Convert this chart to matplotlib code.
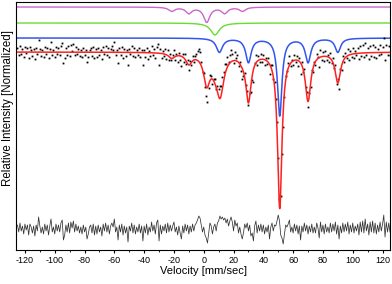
import numpy as np
import matplotlib
matplotlib.use('Agg')
import matplotlib.pyplot as plt
from matplotlib.ticker import MultipleLocator

## chart data

# velocity range of the channels [mm/sec]
v_min, v_max = -125.0, 125.0

# fitted lines: centre [mm/sec], depth, half width
red_pos = [-21.5, -10.0, 2.0, 11.0, 7.5, 25.5, 30.0, 51.0, 70.0, 90.0]
red_depth = [0.010, 0.020, 0.055, 0.075, 0.020, 0.006, 0.095, 0.310, 0.095, 0.060]
red_width = [2.5, 2.5, 2.5, 3.0, 4.0, 2.5, 2.2, 1.8, 2.2, 2.2]

blue_pos = [10.5, 30.0, 51.0, 70.0, 90.0]
blue_depth = [0.028, 0.048, 0.155, 0.048, 0.028]
blue_width = [2.5, 2.2, 1.8, 2.2, 2.2]

green_pos = [7.5]
green_depth = [0.024]
green_width = [3.5]

mag_pos = [-21.5, -10.0, 2.0, 14.0, 26.0]
mag_depth = [0.008, 0.012, 0.030, 0.012, 0.008]
mag_width = [2.5, 2.5, 2.5, 2.5, 2.5]

# baselines of the stacked curves
base_red = 1.0
base_blue = 1.028
base_green = 1.058
base_mag = 1.09
base_resid = 0.646

# residual (data - fit) per channel, in units of 0.002
resid_raw = [4, -3, 6, -2, 3, -5, 5, -1, 4, -6, 5, 2, -4, 3, -7, 4, -2, 12, 3, -4,
             2, -5, 5, -2, 4, -6, 3, 10, -3, 2, -5, 5, -2, 4, -3, 6, 9, -11, -6, 4,
             -3, 6, -4, 7, 1, 8, -3, 5, -2, 3, -4, 2, -5, 4, -3, 2, -10, -5, 2, 4,
             -4, 5, -6, 3, -5, 4, -3, 2, -7, 5, -2, 6, -3, 4, -5, 3, 6, 2, 10, -3,
             2, -11, 4, -3, 5, -6, 3, -4, 2, -13, 3, -2, 6, -4, 4, -5, 2, -3, 5, -4,
             3, -12, 3, -4, 5, -6, 2, -3, 7, -2, 4, -5, 6, 9, -12, 4, -5, 3, -2, 5,
             -4, 6, -3, 4, -2, 3, 7, -3, 2, -6, 3, -4, -10, 3, -4, 5, -2, 4, -5, 3,
             -3, 5, -2, 4, 6, 9, 13, 11, 4, -3, 2, -6, -9, -14, -4, 6, 3, -5, 2, 5,
             -2, 6, 8, 13, 10, 12, 9, 11, 6, 10, 3, 8, 12, 7, -2, 9, 3, 6, -4, 2,
             -5, -10, -4, 5, 1, 6, -2, 4, -7, -4, -12, 3, 8, -4, 4, -2, 5, -3, 4, -5,
             2, -3, 4, -10, 2, 6, -2, 4, 3, 8, 14, 8, -6, -9, -15, -5, 4, 2, 5, 9,
             -3, 2, -4, 5, -2, 4, -5, 3, -11, 3, -3, 6, -2, 4, -5, 3, -3, 5, -4, 2,
             -4, 6, 1, -9, 7, -3, 4, -5, 5, -3, 2, -4, 6, -3, 5, -2, 7, -5, 4, -10,
             3, -4, 6, -3, 5, -2, 7, -5, 4, -3, 6, -4, 3, -2, 5, -6, 7, -3, 8, -4,
             10, -2, 5, -6, 7, -3, 8, -4, 6, -5, 4, -3, 7, -2, 5, 14, -8, 7, -3, 6,
             -3]


def lorentz_sum(v, pos, depth, width):
    total = np.zeros_like(v)
    for c, d, w in zip(pos, depth, width):
        total += d / (1.0 + ((v - c) / w) ** 2)
    return total


v_fine = np.linspace(v_min, v_max, 2001)
v_chan = np.linspace(v_min, v_max, len(resid_raw))
resid = np.array(resid_raw) * 0.002

fit_red = base_red - lorentz_sum(v_fine, red_pos, red_depth, red_width)
fit_blue = base_blue - lorentz_sum(v_fine, blue_pos, blue_depth, blue_width)
fit_green = base_green - lorentz_sum(v_fine, green_pos, green_depth, green_width)
fit_mag = base_mag - lorentz_sum(v_fine, mag_pos, mag_depth, mag_width)
data = base_red - lorentz_sum(v_chan, red_pos, red_depth, red_width) + resid

## plot

plt.rcParams['font.family'] = ['Liberation Sans', 'DejaVu Sans']
plt.rcParams['axes.unicode_minus'] = False

fig = plt.figure(figsize=(3.92, 2.84), dpi=100)
ax = fig.add_axes([16 / 392, 34 / 284, 374 / 392, 248 / 284])

ax.plot(v_fine, fit_mag, color='#cc66cc', lw=1.0)
ax.plot(v_fine, fit_green, color='#66dd33', lw=1.0)
ax.plot(v_fine, fit_blue, color='#3355ee', lw=1.1)
ax.plot(v_chan, data, 's', color='k', ms=1.3, mew=0)
ax.plot(v_fine, fit_red, color='#ff2020', lw=1.1)
ax.plot(v_chan, base_resid + resid, color='#333333', lw=0.55)

ax.set_xlim(-126, 125)
ax.set_ylim(0.604, 1.10)
ax.xaxis.set_major_locator(MultipleLocator(20))
ax.xaxis.set_minor_locator(MultipleLocator(10))
ax.tick_params(axis='x', which='major', direction='out', length=2.5, width=0.8,
               labelsize=6.5, pad=1.5)
ax.tick_params(axis='x', which='minor', direction='out', length=1.5, width=0.6)
ax.set_yticks([])
for sp in ax.spines.values():
    sp.set_linewidth(0.8)

ax.set_xlabel('Velocity [mm/sec]', fontsize=8, labelpad=1)
fig.text(8.5 / 392, 1 - 108 / 284, 'Relative Intensity [Normalized]', fontsize=8.3,
         rotation=90, ha='center', va='center')

fig.savefig('out.png', dpi=100)
